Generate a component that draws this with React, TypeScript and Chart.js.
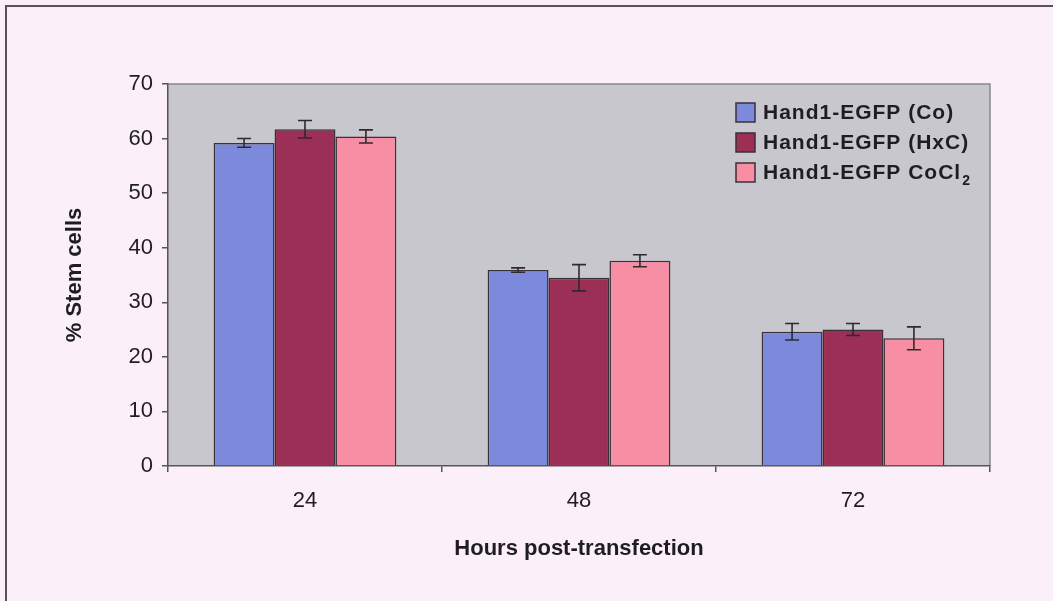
import React, { useEffect, useRef } from 'react';
import { Chart, registerables } from 'chart.js';

Chart.register(...registerables);

// ---- Data ----
const categories = ['24', '48', '72'];
const seriesLabels = ['Hand1-EGFP (Co)', 'Hand1-EGFP (HxC)', 'Hand1-EGFP CoCl₂'];
const coValues = [59.2, 35.9, 24.6];
const hxcValues = [61.7, 34.5, 25.0];
const cocl2Values = [60.4, 37.6, 23.4];
const coErrors = [0.8, 0.4, 1.5];
const hxcErrors = [1.6, 2.4, 1.1];
const cocl2Errors = [1.2, 1.1, 2.1];
const yMin = 0;
const yMax = 70;
const yStep = 10;
const xTitle = 'Hours post-transfection';
const yTitle = '% Stem cells';

const seriesColors = ['#7d89da', '#9c2f55', '#f78ea3'];
const FONT = "'Liberation Sans', Arial, Helvetica, sans-serif";
const TEXT = '#1f1d22';

const plotBgPlugin = {
  id: 'plotBg',
  beforeDraw(chart: any) {
    const { ctx, chartArea } = chart;
    if (!chartArea) return;
    ctx.save();
    ctx.fillStyle = '#c9c7ce';
    ctx.fillRect(chartArea.left, chartArea.top, chartArea.right - chartArea.left, chartArea.bottom - chartArea.top);
    ctx.strokeStyle = '#8a8890';
    ctx.lineWidth = 1.5;
    ctx.beginPath();
    ctx.moveTo(chartArea.left, chartArea.top);
    ctx.lineTo(chartArea.right, chartArea.top);
    ctx.lineTo(chartArea.right, chartArea.bottom);
    ctx.stroke();
    ctx.restore();
  },
};

const errorBarPlugin = {
  id: 'errorBars',
  afterDatasetsDraw(chart: any) {
    const { ctx } = chart;
    const yScale = chart.scales.y;
    ctx.save();
    ctx.strokeStyle = '#2e2a30';
    ctx.lineWidth = 1.6;
    chart.data.datasets.forEach((ds: any, i: number) => {
      const meta = chart.getDatasetMeta(i);
      meta.data.forEach((bar: any, j: number) => {
        const v = ds.data[j];
        const e = ds.errors[j];
        const x = bar.x;
        const yTop = yScale.getPixelForValue(v + e);
        const yBot = yScale.getPixelForValue(v - e);
        const cap = 7;
        ctx.beginPath();
        ctx.moveTo(x, yTop);
        ctx.lineTo(x, yBot);
        ctx.moveTo(x - cap, yTop);
        ctx.lineTo(x + cap, yTop);
        ctx.moveTo(x - cap, yBot);
        ctx.lineTo(x + cap, yBot);
        ctx.stroke();
      });
    });
    ctx.restore();
  },
};

const legendPlugin = {
  id: 'insideLegend',
  afterDraw(chart: any) {
    const { ctx, chartArea } = chart;
    const x0 = chartArea.right - 254;
    const y0 = chartArea.top + 28;
    const rowH = 30;
    ctx.save();
    chart.data.datasets.forEach((ds: any, i: number) => {
      const cy = y0 + i * rowH;
      ctx.fillStyle = ds.backgroundColor;
      ctx.fillRect(x0, cy - 9, 19, 19);
      ctx.strokeStyle = '#3a3038';
      ctx.lineWidth = 1.5;
      ctx.strokeRect(x0, cy - 9, 19, 19);
      ctx.fillStyle = TEXT;
      ctx.textBaseline = 'middle';
      ctx.textAlign = 'left';
      (ctx as any).letterSpacing = '1px';
      ctx.font = `bold 21px ${FONT}`;
      let label: string = ds.label;
      let sub = '';
      if (label.endsWith('₂')) {
        label = label.slice(0, -1);
        sub = '2';
      }
      const tx = x0 + 27;
      ctx.fillText(label, tx, cy + 1);
      if (sub) {
        const w = ctx.measureText(label).width;
        ctx.font = `bold 14px ${FONT}`;
        ctx.fillText(sub, tx + w + 1, cy + 9);
      }
    });
    ctx.restore();
  },
};

export default function App() {
  const canvasRef = useRef<HTMLCanvasElement | null>(null);

  useEffect(() => {
    if (!canvasRef.current) return;
    const values = [coValues, hxcValues, cocl2Values];
    const errors = [coErrors, hxcErrors, cocl2Errors];
    const chart = new Chart(canvasRef.current, {
      type: 'bar',
      data: {
        labels: categories,
        datasets: seriesLabels.map((label, i) => ({
          label,
          data: values[i],
          errors: errors[i],
          backgroundColor: seriesColors[i],
          borderColor: '#3a3038',
          borderWidth: 1.5,
          categoryPercentage: 0.667,
          barPercentage: 1.0,
        })) as any,
      },
      options: {
        responsive: false,
        animation: false,
        devicePixelRatio: 1,
        layout: { padding: { left: 0, top: 84, right: 63, bottom: 0 } },
        plugins: {
          legend: { display: false },
          tooltip: { enabled: false },
        },
        scales: {
          x: {
            grid: { offset: true, drawOnChartArea: false, tickLength: 6, color: '#555', lineWidth: 1.5 },
            border: { color: '#555', width: 1.5 },
            ticks: { font: { family: FONT, size: 22 }, color: TEXT, padding: 16 },
            title: {
              display: true,
              text: xTitle,
              font: { family: FONT, size: 22, weight: 'bold' },
              color: TEXT,
              padding: { top: 0, bottom: 39 },
            },
            afterFit: (s: any) => { s.height = 135; },
          },
          y: {
            min: yMin,
            max: yMax,
            grid: { drawOnChartArea: false, tickLength: 6, color: '#555', lineWidth: 1.5 },
            border: { color: '#555', width: 1.5 },
            ticks: { stepSize: yStep, font: { family: FONT, size: 22 }, color: TEXT, padding: 9 },
            title: {
              display: true,
              text: yTitle,
              font: { family: FONT, size: 22, weight: 'bold' },
              color: TEXT,
              padding: { top: 62, bottom: 0 },
            },
            afterFit: (s: any) => { s.width = 168; },
          },
        },
      } as any,
      plugins: [plotBgPlugin, errorBarPlugin, legendPlugin],
    });
    return () => chart.destroy();
  }, []);

  return (
    <div style={{ position: 'absolute', left: 0, top: 0, width: 1053, height: 601, background: '#fbf0f9', overflow: 'hidden' }}>
      <div style={{ position: 'absolute', left: 5, top: 5, width: 1060, height: 610, borderLeft: '2px solid #555', borderTop: '2px solid #555' }} />
      <canvas ref={canvasRef} width={1053} height={601} style={{ position: 'absolute', left: 0, top: 0, width: 1053, height: 601 }} />
    </div>
  );
}
